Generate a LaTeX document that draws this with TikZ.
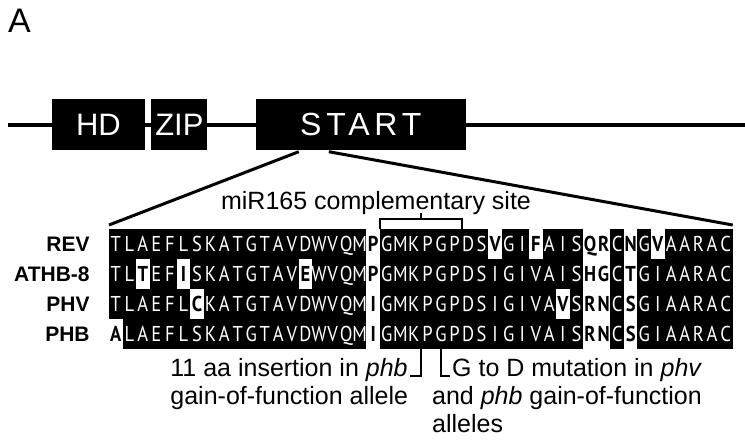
\documentclass[tikz,border=0pt]{standalone}
\usepackage{fontspec}
\setmainfont{Liberation Sans}
\newfontfamily\seqfont[FakeStretch=0.86]{PT Sans}
\usetikzlibrary{positioning, calc}

% cells where a residue differs from the others
\newcommand\diffcells{,1-20,1-29,1-32,1-36,1-37,1-39,1-41,2-3,2-6,2-15,2-20,2-36,2-37,2-39,3-7,3-20,3-34,3-36,3-37,3-39,4-1,4-20,4-36,4-37,4-39,}
\makeatletter
\newcommand\ifdiffcell[2]{\edef\@tempa{\noexpand\in@{,#1-#2,}{\diffcells}}\@tempa
    \ifin@\expandafter\@firstoftwo\else\expandafter\@secondoftwo\fi}
\makeatother

\begin{document}
\begin{tikzpicture}[x=1pt, y=-1pt,
        domainbox/.style={rectangle, fill=black, text=white, inner sep=0pt, minimum height=51pt, text height=22pt, text depth=0pt, font=\fontsize{31}{31}\selectfont},
        seqname/.style={anchor=east, inner sep=0pt, text height=15pt, text depth=0pt, font=\fontsize{21}{21}\selectfont\bfseries},
        residue/.style={rectangle, inner sep=0pt, minimum width=13.55pt, minimum height=30pt, text height=15pt, text depth=0pt, text=white, font=\fontsize{21.5}{21.5}\seqfont},
        diffres/.style={residue, fill=white, text=black, font=\fontsize{21.5}{21.5}\seqfont\bfseries},
        note/.style={inner sep=0pt, font=\fontsize{25}{25}\selectfont},
        backbone/.style={line width=4pt},
        link/.style={line width=3pt},
        tick/.style={line width=2pt}
    ]
        \useasboundingbox (0,0) rectangle (745,446);

        % Panel letter
        \node[anchor=base west, inner sep=0pt, font=\fontsize{34}{34}\selectfont] (panel) at (8,33) {A};

        % Protein domains
        \coordinate (bb-l) at (8,125);
        \coordinate (bb-r) at (745,125);
        \draw[backbone] (bb-l) -- (bb-r);
        \node[domainbox, minimum width=93pt] (hd) at (98.5,125) {HD};
        \node[domainbox, minimum width=56pt, right=6pt of hd] (zip) {ZIP};
        \node[domainbox, minimum width=210pt, right=48pt of zip, font=\fontsize{32}{32}\selectfont\addfontfeature{LetterSpace=15}] (start) {START};

        % Alignment block
        \node[fill=black, inner sep=0pt, minimum width=623.3pt, minimum height=120pt, anchor=north west] (block) at (109,229) {};
        \foreach \seq [count=\row] in {
            {T,L,A,E,F,L,S,K,A,T,G,T,A,V,D,W,V,Q,M,P,G,M,K,P,G,P,D,S,V,G,I,F,A,I,S,Q,R,C,N,G,V,A,A,R,A,C},
            {T,L,T,E,F,I,S,K,A,T,G,T,A,V,E,W,V,Q,M,P,G,M,K,P,G,P,D,S,I,G,I,V,A,I,S,H,G,C,T,G,I,A,A,R,A,C},
            {T,L,A,E,F,L,C,K,A,T,G,T,A,V,D,W,V,Q,M,I,G,M,K,P,G,P,D,S,I,G,I,V,A,V,S,R,N,C,S,G,I,A,A,R,A,C},
            {A,L,A,E,F,L,S,K,A,T,G,T,A,V,D,W,V,Q,M,I,G,M,K,P,G,P,D,S,I,G,I,V,A,I,S,R,N,C,S,G,I,A,A,R,A,C}}
            \foreach \res [count=\pos] in \seq {
                \coordinate (c\row-\pos) at ({109+(\pos-0.5)*13.55}, {229+(\row-0.5)*30});
                \ifdiffcell{\row}{\pos}
                    {\node[diffres] (r\row-\pos) at (c\row-\pos) {\res};}
                    {\node[residue] (r\row-\pos) at (c\row-\pos) {\res};}
            }

        % Sequence names
        \node[seqname] (rev) at ($(r1-1.west)+(-19,0)$) {REV};
        \node[seqname] (athb) at ($(r2-1.west)+(-19,0)$) {ATHB-8};
        \node[seqname] (phv) at ($(r3-1.west)+(-19,0)$) {PHV};
        \node[seqname] (phb) at ($(r4-1.west)+(-19,0)$) {PHB};

        % Zoom lines from START
        \draw[link] ($(start.south)+(-62,1)$) -- ($(block.north west)+(0,-4)$);
        \draw[link] ($(start.south)+(-32,1)$) -- ($(block.north east)+(0,-4)$);

        % miR165 site
        \draw[tick] (r1-21.north west) -- ++(0,-10) -| (r1-26.north east);
        \draw[tick] ($(r1-23.north east)+(0,-10)$) -- ++(0,-6);
        \node[note, anchor=base] (mir) at (376,210) {miR165 complementary site};

        % Mutations
        \draw[tick] (r4-23.south east) -- ++(0,27) -- ++(-11,0);
        \draw[tick] (r4-25.south) -- ++(0,27) -- ++(9,0);
        \node[note, anchor=base east] (ins1) at ($(r4-23.south east)+(-13,27)$) {11 aa insertion in \textit{phb}};
        \node[note, anchor=base west] (ins2) at ($(ins1.base west)+(0,28)$) {gain-of-function allele};
        \node[note, anchor=base west] (gd1) at ($(r4-25.south)+(11,27)$) {G to D mutation in \textit{phv}};
        \node[note, anchor=base west] (gd2) at ($(gd1.base west)+(-20,28)$) {and \textit{phb} gain-of-function};
        \node[note, anchor=base west] (gd3) at ($(gd2.base west)+(0,28)$) {alleles};
    \end{tikzpicture}
\end{document}
